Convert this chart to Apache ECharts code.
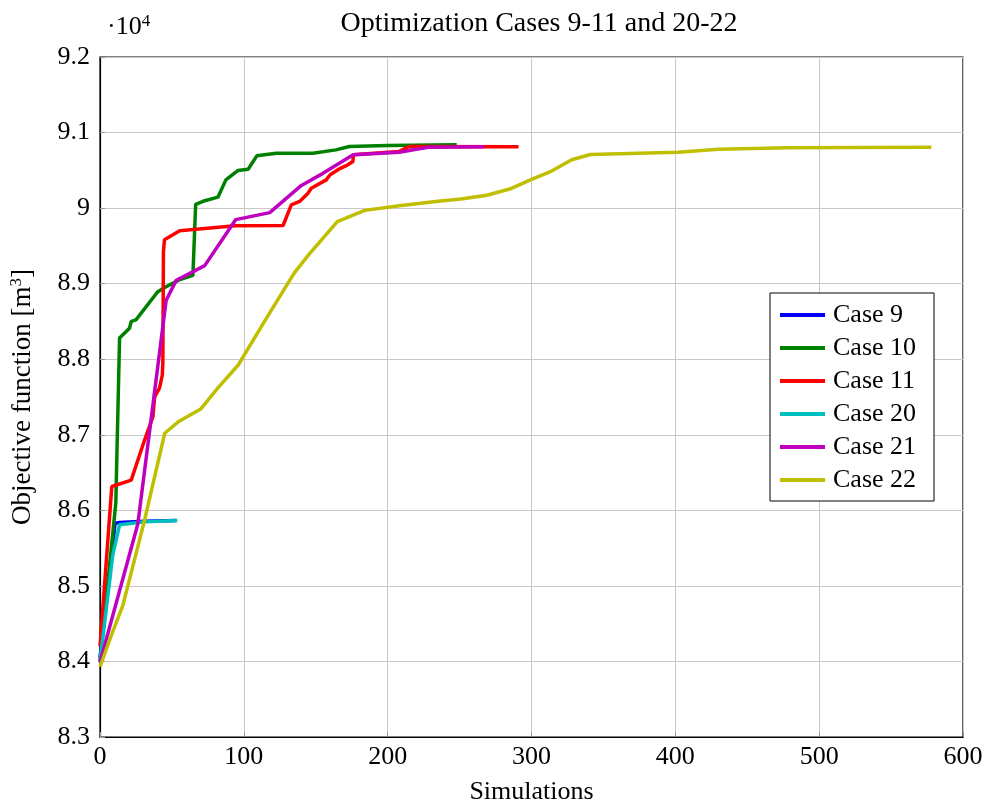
<!DOCTYPE html>
<html>
<head>
<meta charset="utf-8">
<title>Optimization Cases 9-11 and 20-22</title>
<script src="https://cdn.jsdelivr.net/npm/echarts@6/dist/echarts.min.js"></script>
<style>
    html, body { margin: 0; padding: 0; background: #fff; }
    #chart { width: 988px; height: 804px; }
</style>
</head>
<body>
<div id="chart"></div>
<script>
// [simulations, objective value]
const case9 = [[0, 84050], [10.5, 85830], [13.5, 85840], [31, 85855], [53, 85865]]
const case10 = [[0, 84000], [11, 86100], [13.6, 88280], [20.5, 88410], [21.7, 88500], [25, 88520],
    [40, 88890], [45, 88950], [55, 89050], [64.6, 89110], [66.5, 90050], [71.6, 90090], [82, 90145],
    [87.5, 90374], [96, 90498], [103, 90515], [109, 90692], [122.6, 90727], [148, 90727],
    [164, 90771], [173.4, 90815], [200, 90828], [248, 90840]]
const case11 = [[0, 84200], [8.2, 86315], [21.7, 86400], [31, 86930], [36.8, 87240], [38, 87500],
    [41.4, 87620], [43.3, 87790], [43.7, 87950], [44.1, 89420], [44.8, 89580], [55.4, 89700],
    [94, 89767], [127.3, 89770], [133, 90044], [138.8, 90088], [144.6, 90198], [146.9, 90264],
    [157.3, 90374], [160, 90441], [166, 90515], [172.3, 90573], [175.8, 90617], [176.2, 90705],
    [208, 90750], [215, 90815], [291, 90811]]
const case20 = [[0, 84000], [8.9, 85410], [13.6, 85808], [31, 85850], [53.7, 85865]]
const case21 = [[0, 83990], [26.3, 85820], [46, 88780], [53, 89044], [72.8, 89239], [94.4, 89848],
    [118, 89940], [140, 90300], [155, 90460], [176, 90705], [208, 90740], [228, 90806], [267, 90811]]
const case22 = [[0, 83930], [8, 84350], [16, 84750], [31, 85870], [45, 87020], [55, 87180], [70, 87340],
    [82, 87620], [96, 87920], [115, 88520], [135, 89140], [145, 89380], [165, 89820], [184, 89970],
    [208, 90030], [235, 90090], [251, 90120], [269, 90170], [286, 90260], [300, 90380], [314, 90490],
    [328, 90640], [341, 90710], [402, 90740], [430, 90780], [478, 90800], [578, 90805]]

const seriesNames = ['Case 9', 'Case 10', 'Case 11', 'Case 20', 'Case 21', 'Case 22']
const seriesData = [case9, case10, case11, case20, case21, case22]
const seriesColors = ['#0000ff', '#008000', '#ff0000', '#00bfbf', '#bf00bf', '#bfbf00']

const FONT = '"Liberation Serif", "DejaVu Serif", serif'
const FS = 26

const chart = echarts.init(document.getElementById('chart'), null, { renderer: 'canvas' })

const series = seriesNames.map(function (name, i) {
    return {
        name: name,
        type: 'line',
        data: seriesData[i],
        showSymbol: false,
        symbol: 'none',
        animation: false,
        lineStyle: { color: seriesColors[i], width: 3.5 },
        itemStyle: { color: seriesColors[i] }
    }
})

const supStyle = { fontSize: 17, verticalAlign: 'top', padding: [0, 0, 12, 0], fontFamily: FONT, color: '#000' }

const option = {
    backgroundColor: '#fff',
    animation: false,
    textStyle: { fontFamily: FONT, color: '#000' },
    title: {
        text: 'Optimization Cases 9-11 and 20-22',
        left: 534,
        textAlign: 'center',
        top: 5,
        textStyle: { fontFamily: FONT, fontSize: 28, fontWeight: 'normal', color: '#000' }
    },
    graphic: [{
        type: 'text',
        left: 107,
        top: 13,
        style: {
            text: '·10{sup|4}',
            font: FS + 'px ' + FONT,
            fill: '#000',
            rich: { sup: supStyle }
        }
    }],
    legend: {
        orient: 'vertical',
        left: 770,
        top: 293,
        padding: [9, 18, 8, 10],
        backgroundColor: '#fff',
        borderColor: '#000',
        borderWidth: 1,
        borderRadius: 0,
        itemWidth: 45,
        itemHeight: 4,
        itemGap: 7,
        icon: 'rect',
        textStyle: { fontFamily: FONT, fontSize: FS, color: '#000', lineHeight: 26, padding: [0, 0, 0, 3] },
        data: seriesNames
    },
    grid: {
        left: 100,
        right: 25,
        top: 57,
        bottom: 67,
        show: true,
        borderColor: '#000',
        borderWidth: 1.2,
        containLabel: false,
        outerBoundsMode: 'none'
    },
    xAxis: {
        type: 'value',
        min: 0,
        max: 600,
        interval: 100,
        name: 'Simulations',
        nameLocation: 'middle',
        nameGap: 42,
        nameTextStyle: { fontFamily: FONT, fontSize: FS, color: '#000' },
        axisLine: { show: true, lineStyle: { color: '#000', width: 1.2 } },
        axisTick: { show: true, inside: true, length: 5, lineStyle: { color: '#999' } },
        axisLabel: { fontFamily: FONT, fontSize: FS, color: '#000', margin: 7 },
        splitLine: { show: true, lineStyle: { color: '#c8c8c8', width: 1 } }
    },
    yAxis: {
        type: 'value',
        min: 83000,
        max: 92000,
        interval: 1000,
        name: 'Objective function [m{sup|3}]',
        nameLocation: 'middle',
        nameRotate: 90,
        nameGap: 63,
        nameTextStyle: {
            fontFamily: FONT,
            fontSize: 27,
            color: '#000',
            rich: { sup: supStyle }
        },
        axisLine: { show: true, lineStyle: { color: '#000', width: 1.2 } },
        axisTick: { show: true, inside: true, length: 5, lineStyle: { color: '#999' } },
        axisLabel: {
            fontFamily: FONT,
            fontSize: FS,
            color: '#000',
            margin: 10,
            formatter: function (v) {
                return String(Math.round(v / 1000) / 10)
            }
        },
        splitLine: { show: true, lineStyle: { color: '#c8c8c8', width: 1 } }
    },
    series: series
}

chart.setOption(option)
</script>
</body>
</html>
